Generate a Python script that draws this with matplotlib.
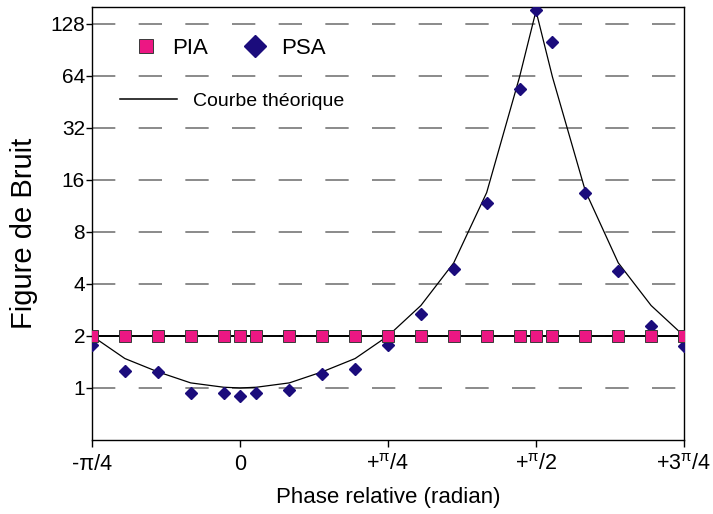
import matplotlib
matplotlib.use("Agg")
import matplotlib.pyplot as plt
from matplotlib.lines import Line2D
from matplotlib.ticker import FixedLocator, NullLocator

plt.rcParams["font.family"] = ["Liberation Sans", "DejaVu Sans"]
plt.rcParams["mathtext.fontset"] = "custom"
plt.rcParams["mathtext.rm"] = "Liberation Sans"
plt.rcParams["mathtext.default"] = "regular"

# relative phase in degrees (-pi/4 .. +3pi/4)
phase_deg = [-45, -35, -25, -15, -5, 0, 5, 15, 25, 35, 45, 55, 65, 75, 85, 90, 95, 105, 115, 125, 135]
pia = [2.0, 2.0, 2.0, 2.0, 2.0, 2.0, 2.0, 2.0, 2.0, 2.0, 2.0,
       2.0, 2.0, 2.0, 2.0, 2.0, 2.0, 2.0, 2.0, 2.0, 2.0]
psa = [1.77, 1.26, 1.23, 0.94, 0.93, 0.90, 0.94, 0.97, 1.21, 1.29, 1.77,
       2.67, 4.9, 11.8, 53.6, 153, 101, 13.5, 4.78, 2.29, 1.75]
theory = [2.0, 1.48, 1.24, 1.07, 1.01, 1.0, 1.01, 1.07, 1.24, 1.48, 2.0,
          3.0, 5.3, 13.5, 63, 152, 63, 13.8, 5.3, 3.0, 2.0]

x_ticks = [-45, 0, 45, 90, 135]
x_labels = ["-π/4", "0", "+$^{π}$/4", "+$^{π}$/2", "+3$^{π}$/4"]
y_ticks = [1, 2, 4, 8, 16, 32, 64, 128]

pink = "#EC1783"
navy = "#1B0C7C"

fig = plt.figure(figsize=(7.13, 5.14), dpi=100)
ax = fig.add_axes([92 / 713, 74 / 514, 592 / 713, 433 / 514])

ax.plot(phase_deg, theory, color="black", lw=0.9, zorder=2)
ax.plot(phase_deg, pia, color="black", lw=1.4, zorder=2)
ax.plot(phase_deg, psa, ls="none", marker="D", ms=6, color=navy, mec=navy, zorder=3)
ax.plot(phase_deg, pia, ls="none", marker="s", ms=8, mfc=pink, mec="#3a3a3a", mew=0.7, zorder=4)

ax.set_yscale("log", base=2)
ax.set_ylim(0.5, 160)
ax.set_xlim(-45, 135)
ax.yaxis.set_major_locator(FixedLocator(y_ticks))
ax.yaxis.set_minor_locator(NullLocator())
ax.set_yticklabels([str(v) for v in y_ticks])
ax.set_xticks(x_ticks)
ax.set_xticklabels(x_labels)

ax.tick_params(axis="y", direction="out", length=4, width=1, labelsize=15, pad=1)
ax.tick_params(axis="x", direction="out", length=5, width=1, labelsize=15.5, pad=5)

ax.set_axisbelow(True)
ax.grid(True, axis="y", color="#777777", lw=1.2, ls=(0, (14, 14)))
for s in ax.spines.values():
    s.set_color("black")
    s.set_linewidth(1)

ax.set_xlabel("Phase relative (radian)", fontsize=16)
ax.set_ylabel("Figure de Bruit", fontsize=21)
ax.xaxis.set_label_coords(0.5, -0.108)
ax.yaxis.set_label_coords(-0.092, 0.478)

h_pia = Line2D([], [], ls="none", marker="s", ms=10, mfc=pink, mec="#3a3a3a", mew=0.7)
h_psa = Line2D([], [], ls="none", marker="D", ms=11, color=navy)
leg1 = ax.legend([h_pia, h_psa], ["PIA", "PSA"], ncol=2, loc="center left",
                 bbox_to_anchor=(0.073, 0.905), frameon=False, fontsize=16,
                 handlelength=1.0, handletextpad=0.64, columnspacing=1.65,
                 borderpad=0, borderaxespad=0)
ax.add_artist(leg1)
h_line = Line2D([], [], color="black", lw=1.1)
ax.legend([h_line], ["Courbe théorique"], loc="center left",
          bbox_to_anchor=(0.0473, 0.783), frameon=False, fontsize=14,
          handlelength=2.93, handletextpad=0.8, borderpad=0, borderaxespad=0)

fig.savefig("out.png", dpi=100)
